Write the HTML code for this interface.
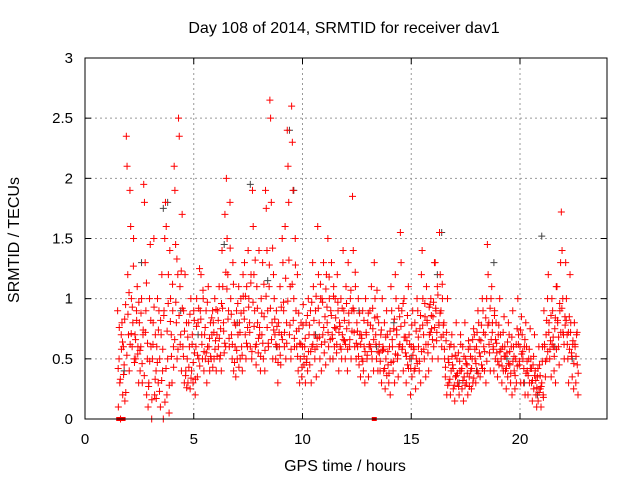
<!DOCTYPE html>
<html><head><meta charset="utf-8"><style>
html,body{margin:0;padding:0;background:#fff;}
svg{display:block;font-family:"Liberation Sans",sans-serif;}
</style></head><body>
<svg id="chart" width="640" height="480" viewBox="0 0 640 480">
<text x="344" y="33" font-size="16" text-anchor="middle" fill="#000">Day 108 of 2014, SRMTID for receiver dav1</text>
<text x="345" y="471" font-size="16" text-anchor="middle" fill="#000">GPS time / hours</text>
<text x="19" y="240" font-size="16" text-anchor="middle" fill="#000" transform="rotate(-90 19 240)">SRMTID / TECUs</text>
<g id="grid"></g><g id="ticks"></g><g id="black"></g><g id="red"></g>
<rect x="85" y="58" width="522" height="361" fill="none" stroke="#000" stroke-width="1"/>
</svg>
<script>
const xTicks=[0,5,10,15,20];
const yTicks=[0,0.5,1,1.5,2,2.5,3];
const yTickLabels=["0","0.5","1","1.5","2","2.5","3"];
const redTimes=[1.5,1.7,1.9,2.1,2.3,2.5,2.7,2.9,3.1,3.3,3.5,3.7,3.9,4.1,4.3,4.5,4.7,4.9,5.1,5.3,5.5,5.7,5.9,6.1,6.3,6.5,6.7,6.9,7.1,7.3,7.5,7.7,7.9,8.1,8.3,8.5,8.7,8.9,9.1,9.3,9.5,9.7,9.9,10.1,10.3,10.5,10.7,10.9,11.1,11.3,11.5,11.7,11.9,12.1,12.3,12.5,12.7,12.9,13.1,13.3,13.5,13.7,13.9,14.1,14.3,14.5,14.7,14.9,15.1,15.3,15.5,15.7,15.9,16.1,16.3,16.5,16.7,16.9,17.1,17.3,17.5,17.7,17.9,18.1,18.3,18.5,18.7,18.9,19.1,19.3,19.5,19.7,19.9,20.1,20.3,20.5,20.7,20.9,21.1,21.3,21.5,21.7,21.9,22.1,22.3,22.5];
const redValues=[
[0.9,0.1,0.5,0.3,0.0,0.7],[0.8,0.2,0.6,0.45,0.15,0.95],[2.35,2.1,1.2,0.7,0.4,1.9],[1.6,1.0,0.6,0.8,1.5,0.5],[0.7,0.5,0.9,1.1,0.6,0.3],
[0.8,0.4,0.6,1.0,0.3,0.7],[1.95,1.8,1.3,0.9,0.2,0.5],[0.1,0.3,1.0,1.45,0.6,0.0],[0.5,0.8,1.5,0.2,0.7,0.4],[0.6,1.0,0.3,0.9,0.5,0.1],
[0.7,1.2,0.4,0.0,0.9,1.5],[1.8,1.6,0.2,0.5,1.2,0.05],[1.4,1.0,0.7,0.3,0.9,0.6],[2.1,1.9,1.45,0.8,0.5,1.2],[2.5,2.35,1.1,0.7,0.4,1.7],
[0.6,0.9,0.3,1.2,0.4,0.8],[0.5,0.3,0.8,0.6,0.25,1.0],[0.4,0.7,0.3,0.9,0.55,0.2],[0.6,1.0,0.35,0.8,0.5,1.25],[0.9,1.2,0.7,0.5,1.0,0.4],
[0.7,0.5,0.9,0.3,0.6,1.1],[0.6,0.4,0.8,0.5,0.7,0.9],[0.8,0.5,1.0,0.65,0.4,0.7],[0.9,0.6,1.1,0.5,0.75,0.4],[1.4,1.1,0.8,0.55,1.7,0.6],
[2.0,1.5,1.2,0.9,0.6,1.8],[1.0,0.7,0.5,1.3,0.4,0.8],[0.6,0.35,0.9,0.5,0.7,1.1],[0.8,0.5,1.0,0.6,0.4,1.2],[0.9,1.3,0.7,0.5,1.1,0.6],
[1.4,1.0,0.8,0.6,1.2,0.5],[1.9,1.6,1.2,0.9,0.6,0.45],[1.1,0.8,0.55,1.4,0.7,0.4],[1.0,0.7,1.3,0.5,0.85,0.4],[1.9,1.75,1.4,0.9,0.6,1.1],
[2.65,2.5,1.8,0.8,0.5,1.2],[1.0,0.7,0.5,0.9,0.6,0.3],[0.8,0.6,1.1,0.45,0.7,1.5],[1.3,0.9,0.6,1.6,0.5,0.8],[2.4,2.1,1.8,0.7,1.1,0.5],
[2.6,2.3,1.9,1.0,0.6,1.5],[0.9,0.6,1.2,0.4,0.75,0.3],[0.5,0.8,0.35,0.6,0.95,0.45],[0.6,0.3,0.8,0.5,0.4,1.0],[0.7,0.45,0.9,0.3,0.6,1.3],
[1.1,0.7,0.5,0.9,0.35,0.6],[1.6,1.2,0.8,0.5,1.0,0.4],[1.0,0.7,1.3,0.55,0.85,0.45],[1.2,0.8,1.5,0.6,1.0,0.5],[0.9,1.3,0.7,0.5,1.1,0.6],
[1.0,0.75,0.55,1.2,0.9,0.4],[0.8,0.6,1.0,0.5,0.7,1.4],[0.9,0.65,0.5,1.1,0.75,0.4],[1.3,0.8,0.6,1.0,0.5,0.9],[1.85,1.4,0.9,0.6,1.1,0.5],
[0.8,0.6,1.0,0.45,0.7,0.35],[0.7,0.5,0.9,0.4,0.6,0.3],[1.0,0.7,0.5,0.8,0.35,0.6],[0.9,0.6,1.1,0.5,0.75,0.4],[1.3,1.0,0.7,0.5,0.85,0.4],
[0.8,0.55,0.4,0.7,0.3,1.0],[0.6,0.4,0.8,0.25,0.5,0.9],[0.7,0.45,0.3,0.6,0.2,1.1],[0.9,0.6,0.4,0.75,0.3,1.2],[1.0,0.7,0.5,0.35,0.6,0.85],
[1.55,1.3,0.9,0.6,0.4,1.0],[0.8,0.55,0.3,0.65,0.45,1.1],[0.7,0.5,0.2,0.6,0.35,0.9],[0.6,0.4,0.8,0.25,0.5,1.0],[0.9,0.6,0.4,0.75,0.3,1.2],
[1.4,1.0,0.7,0.5,0.85,0.35],[1.1,0.8,0.55,0.4,0.7,0.95],[1.0,0.75,0.5,0.85,0.6,1.3],[1.3,0.9,0.65,1.1,0.5,0.8],[1.55,1.2,0.9,0.6,1.0,0.7],
[0.8,0.5,0.35,0.65,0.2,1.0],[0.5,0.3,0.6,0.2,0.4,0.7],[0.45,0.25,0.6,0.15,0.35,0.8],[0.5,0.3,0.55,0.2,0.4,0.7],[0.4,0.25,0.6,0.15,0.35,0.8],
[0.5,0.3,0.45,0.2,0.65,0.35],[0.6,0.4,0.25,0.5,0.3,0.75],[0.7,0.5,0.3,0.6,0.4,0.9],[0.8,0.55,0.35,0.65,0.45,1.0],[0.9,0.6,0.4,0.7,0.3,1.0],
[1.45,1.2,0.8,0.55,0.4,1.0],[1.1,0.8,0.6,0.4,0.9,0.5],[0.8,0.55,0.35,0.7,0.45,1.0],[0.7,0.5,0.3,0.6,0.4,0.85],[0.6,0.4,0.25,0.55,0.35,0.8],
[0.7,0.45,0.3,0.6,0.2,0.9],[0.6,0.4,0.25,0.5,0.3,0.75],[1.0,0.7,0.45,0.6,0.3,0.85],[0.7,0.5,0.3,0.6,0.2,0.8],[0.6,0.4,0.2,0.5,0.3,0.75],
[0.5,0.3,0.15,0.45,0.25,0.7],[0.4,0.2,0.1,0.35,0.15,0.6],[0.45,0.25,0.1,0.3,0.6,0.2],[0.9,0.6,0.35,0.7,0.5,1.0],[1.2,0.8,0.5,0.65,0.35,1.0],
[0.9,0.6,0.4,0.75,0.3,1.1],[1.1,0.8,0.6,0.45,0.9,1.3],[1.72,1.4,1.0,0.7,0.5,0.85],[1.3,1.0,0.7,0.5,0.3,0.85],[1.2,0.8,0.55,0.35,0.65,0.25],
[0.8,0.6,0.3,0.7,0.45,0.2]];
const redValues2=[
[0.42,0.76,0.33,0.58],[0.64,0.37,0.83,0.22],[0.53,0.87,1.05,0.62],[0.71,0.93,1.27,0.47],[0.66,0.82,0.54,0.97],
[0.57,0.88,0.46,0.74],[0.36,0.72,1.13,0.63],[0.27,0.48,0.82,0.16],[0.62,0.93,0.33,0.17],[0.47,0.74,0.23,0.82],
[0.32,0.58,0.86,0.14],[0.42,0.73,0.96,0.28],[0.81,0.52,1.12,0.43],[0.66,0.97,1.33,0.58],[0.86,0.62,1.23,0.92],
[0.52,0.73,0.36,0.26],[0.68,0.43,0.87,0.34],[0.62,0.47,0.82,0.33],[0.77,0.53,0.92,0.44],[0.83,0.62,1.07,0.56],
[0.76,0.55,0.97,0.48],[0.67,0.52,0.84,0.43],[0.72,0.58,0.91,0.52],[0.82,0.67,0.53,0.96],[0.92,0.73,0.63,1.22],
[1.08,0.83,0.67,1.42],[0.87,0.62,1.12,0.47],[0.78,0.57,0.96,0.43],[0.72,0.88,0.53,1.02],[0.83,1.02,0.63,0.76],
[0.93,0.72,1.13,0.56],[0.97,0.77,1.32,0.62],[0.92,0.67,0.76,0.52],[0.88,0.63,1.12,0.57],[1.02,0.76,0.63,1.28],
[0.92,0.66,1.42,0.74],[0.83,0.62,0.77,0.47],[0.72,0.53,0.93,0.66],[0.97,0.72,1.17,0.63],[0.98,1.32,0.78,0.58],
[1.12,0.82,0.67,1.28],[0.73,0.52,0.88,0.63],[0.62,0.43,0.78,0.52],[0.67,0.47,0.86,0.56],[0.78,0.56,0.97,0.62],
[0.82,0.58,1.02,0.67],[0.92,0.68,1.12,0.62],[0.97,0.76,0.64,1.08],[0.93,0.72,1.18,0.66],[0.86,0.67,1.02,0.76],
[0.84,0.62,0.97,0.72],[0.77,0.58,0.92,0.66],[0.82,0.62,0.96,0.58],[0.88,0.66,1.07,0.73],[0.92,0.72,1.22,0.63],
[0.73,0.52,0.88,0.62],[0.67,0.48,0.82,0.56],[0.72,0.53,0.88,0.62],[0.78,0.56,0.92,0.66],[0.84,0.62,1.07,0.56],
[0.62,0.48,0.74,0.57],[0.58,0.42,0.68,0.36],[0.56,0.38,0.73,0.47],[0.66,0.48,0.83,0.54],[0.74,0.53,0.92,0.62],
[0.77,0.58,0.96,0.68],[0.68,0.52,0.86,0.42],[0.62,0.42,0.78,0.53],[0.58,0.42,0.73,0.46],[0.68,0.48,0.86,0.56],
[0.78,0.58,0.96,0.62],[0.82,0.62,0.93,0.72],[0.86,0.66,0.97,0.76],[0.92,0.72,1.03,0.78],[0.88,0.68,1.12,0.78],
[0.58,0.43,0.72,0.28],[0.47,0.33,0.62,0.52],[0.42,0.28,0.53,0.36],[0.38,0.27,0.48,0.62],[0.42,0.32,0.52,0.28],
[0.46,0.38,0.58,0.27],[0.52,0.42,0.66,0.34],[0.58,0.46,0.72,0.38],[0.66,0.52,0.78,0.42],[0.72,0.56,0.84,0.48],
[0.78,0.62,0.92,0.66],[0.72,0.58,0.86,0.66],[0.63,0.48,0.78,0.56],[0.58,0.44,0.72,0.52],[0.52,0.42,0.64,0.46],
[0.56,0.38,0.68,0.48],[0.52,0.36,0.62,0.44],[0.62,0.48,0.74,0.54],[0.56,0.42,0.66,0.38],[0.48,0.36,0.58,0.42],
[0.42,0.32,0.52,0.36],[0.32,0.26,0.42,0.22],[0.36,0.27,0.48,0.18],[0.62,0.48,0.82,0.56],[0.72,0.58,0.86,0.62],
[0.68,0.52,0.84,0.58],[0.82,0.68,0.96,0.72],[0.92,0.72,0.62,0.78],[0.82,0.62,0.72,0.58],[0.72,0.52,0.62,0.46],
[0.62,0.52,0.72,0.38]];
const blackTimes=[1.8,2.6,3.6,3.8,4.4,5.2,6.4,7.0,7.6,8.4,8.8,9.4,9.6,10.6,11.4,12.6,13.4,14.2,15.0,16.4,16.2,17.2,18.0,18.8,19.4,20.2,20.8,21.0,21.6,22.4];
const blackValues=[0.4,1.3,1.75,1.8,0.9,0.7,1.45,0.8,1.95,1.15,0.6,2.4,1.9,0.7,0.5,0.9,0.6,0.8,0.5,1.55,1.2,0.3,0.4,1.3,0.5,0.3,0.2,1.52,0.6,0.5];
const redSquareTimes=[1.55,1.75,13.3];

const X0=85,X1=607,Y0=419,Y1=58,XMAX=24,YMAX=3;
const sx=t=>X0+(X1-X0)*t/XMAX;
const sy=v=>Y0-(Y0-Y1)*v/YMAX;
const NS="http://www.w3.org/2000/svg";
function mk(tag,attrs,parent){const e=document.createElementNS(NS,tag);for(const k in attrs)e.setAttribute(k,attrs[k]);parent.appendChild(e);return e;}
const grid=document.getElementById('grid'),ticks=document.getElementById('ticks');
xTicks.forEach(t=>{
  const x=sx(t);
  if(t>0){const g=mk('line',{x1:x,y1:Y1,x2:x,y2:Y0,stroke:'#999','stroke-dasharray':'2,3','stroke-width':1},grid);
  
  }
  mk('line',{x1:x,y1:Y0,x2:x,y2:Y0-6,stroke:'#000'},ticks);
  mk('line',{x1:x,y1:Y1,x2:x,y2:Y1+6,stroke:'#000'},ticks);
  const l=mk('text',{x:x,y:Y0+25,'font-size':15,'text-anchor':'middle'},ticks);l.textContent=t;
  
  
});
yTicks.forEach((v,i)=>{
  const y=sy(v);
  if(v>0&&v<YMAX){const g=mk('line',{x1:X0,y1:y,x2:X1,y2:y,stroke:'#999','stroke-dasharray':'2,3','stroke-width':1},grid);
  
  }
  mk('line',{x1:X0,y1:y,x2:X0+6,y2:y,stroke:'#000'},ticks);
  mk('line',{x1:X1,y1:y,x2:X1-6,y2:y,stroke:'#000'},ticks);
  const l=mk('text',{x:X0-12,y:y+5,'font-size':15,'text-anchor':'end'},ticks);l.textContent=yTickLabels[i];
  
  
});
function plus(g,x,y,col){
  return mk('path',{d:`M${x-3.5},${y}h7M${x},${y-3.5}v7`,stroke:col,'stroke-width':1,fill:'none'},g);
}
const bg=document.getElementById('black');
blackTimes.forEach((t,i)=>{
  const p=plus(bg,sx(t),sy(blackValues[i]),'#444');
  
  
});
const rg=document.getElementById('red');
redTimes.forEach((t,i)=>{
  const vals=redValues[i];
  vals.forEach((v,j)=>{
    const tt=t+0.2*j/vals.length;
    const p=plus(rg,sx(tt),sy(v),'#ff0000');
    
    
  });
  const vals2=redValues2[i];
  vals2.forEach((v,j)=>{
    const tt=t+0.025+0.2*j/vals2.length;
    const p=plus(rg,sx(tt),sy(v),'#ff0000');
    
    
  });
});
redSquareTimes.forEach(t=>{
  const r=mk('rect',{x:sx(t)-2.5,y:Y0-2,width:5,height:4,fill:'#ff0000'},rg);
  
  
});
</script>
</body></html>
